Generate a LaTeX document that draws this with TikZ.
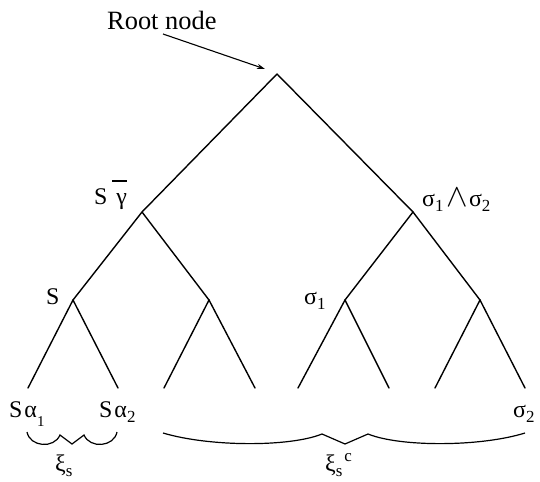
\documentclass[tikz,border=0pt]{standalone}
\usepackage{fontspec}
\setmainfont{Liberation Serif}
\usetikzlibrary{arrows.meta}
\newcommand{\lowsub}[1]{\raisebox{-5bp}{\fontsize{17}{17}\selectfont #1}}
\newcommand{\highsup}[1]{\raisebox{10bp}{\fontsize{17}{17}\selectfont #1}}
\tikzset{
  edge/.style={line width=1.4bp, line cap=round},
  brace/.style={line width=1.2bp, line join=miter},
  lbl/.style={anchor=base west, inner sep=0pt, font=\fontsize{24}{24}\selectfont},
  rootlbl/.style={anchor=base west, inner sep=0pt, font=\fontsize{26.5}{26.5}\selectfont},
  pointer/.style={line width=1.1bp, -{Stealth[length=8bp,width=5bp]}}
}
\begin{document}
\begin{tikzpicture}[x=1bp,y=-1bp]
\useasboundingbox (0,0) rectangle (540,482);
% tree points
\coordinate (r) at (277,74);
\coordinate (a) at (142,212);
\coordinate (b) at (413,212);
\coordinate (aa) at (73,300);
\coordinate (ab) at (209,300);
\coordinate (ba) at (345,300);
\coordinate (bb) at (480,300);
\coordinate (l1) at (28,388);
\coordinate (l2) at (118,388);
\coordinate (l3) at (164,388);
\coordinate (l4) at (255,388);
\coordinate (l5) at (298,388);
\coordinate (l6) at (389,388);
\coordinate (l7) at (435,388);
\coordinate (l8) at (525,388);
\draw[edge] (r) -- (a); \draw[edge] (r) -- (b);
\draw[edge] (a) -- (aa); \draw[edge] (a) -- (ab);
\draw[edge] (b) -- (ba); \draw[edge] (b) -- (bb);
\draw[edge] (aa) -- (l1); \draw[edge] (aa) -- (l2);
\draw[edge] (ab) -- (l3); \draw[edge] (ab) -- (l4);
\draw[edge] (ba) -- (l5); \draw[edge] (ba) -- (l6);
\draw[edge] (bb) -- (l7); \draw[edge] (bb) -- (l8);
% root label and arrow
\node[rootlbl] (rootlabel) at (107,30) {Root node};
\coordinate (arrS) at (163,34);
\coordinate (arrE) at (265,69);
\draw[pointer] (arrS) -- (arrE);
% labels
\node[lbl] (sg) at (94,205) {S\hspace{9bp}γ};
\draw[line width=1.1bp] (112,181) -- (127,181);
\node[lbl] (s12) at (422,207) {σ\lowsub{1}\hspace{3bp}\scalebox{1.3}{$\wedge$}\hspace{1bp}σ\lowsub{2}};
\node[lbl] (s) at (46,304) {S};
\node[lbl] (sig1) at (304,304) {σ\lowsub{1}};
\node[lbl] (sa1) at (9,417) {S\hspace{2bp}α\raisebox{-9bp}{\fontsize{15}{15}\selectfont 1}};
\node[lbl] (sa2) at (99,417) {S\hspace{2bp}α\lowsub{2}};
\node[lbl] (sig2) at (513,417) {σ\lowsub{2}};
% braces
\draw[brace] (27,432) .. controls (30,447) and (54,449) .. (60,435) -- (72,444) -- (84,435) .. controls (90,449) and (114,447) .. (117,432);
\draw[brace] (163,433) .. controls (210,447) and (290,447) .. (322,434) -- (345,444) -- (368,434) .. controls (400,447) and (480,447) .. (525,433);
\node[lbl] (xis) at (55,471) {ξ\lowsub{s}};
\node[lbl] (xisc) at (325,471) {ξ\lowsub{s}\hspace{2bp}\highsup{c}};
\end{tikzpicture}
\end{document}
